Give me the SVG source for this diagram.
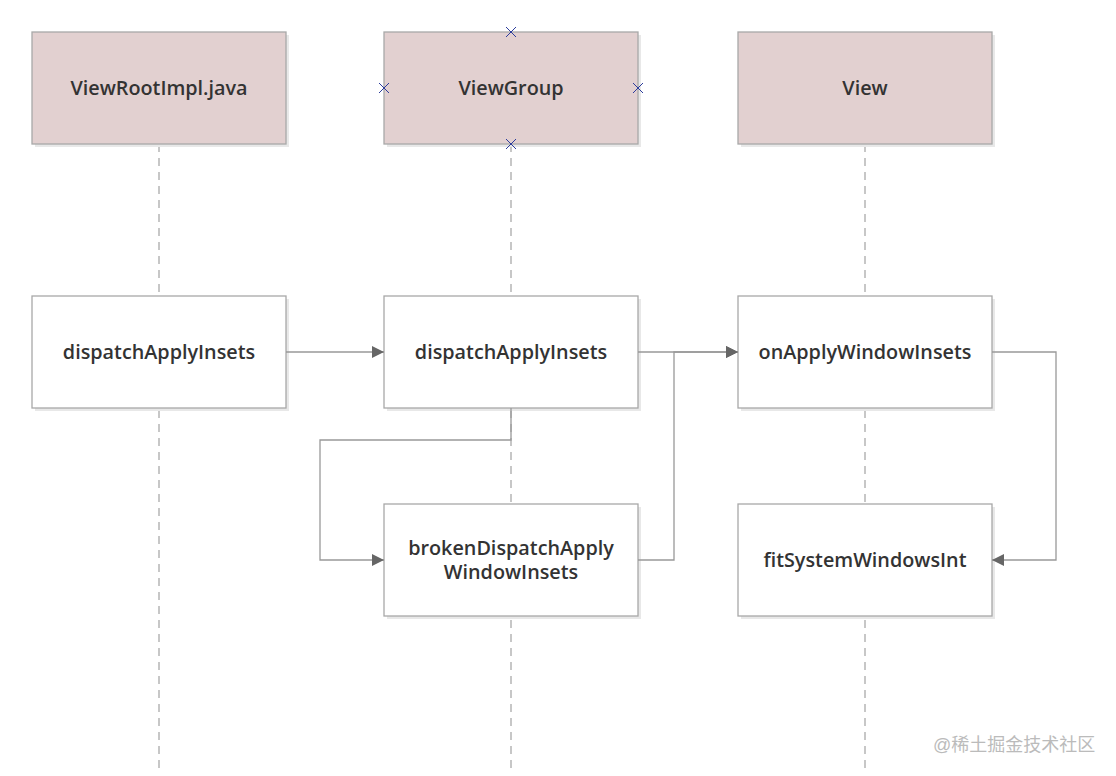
<svg xmlns="http://www.w3.org/2000/svg" width="1116" height="776" viewBox="0 0 1116 776">
<defs>
<style>
.life{stroke:#aaaaaa;stroke-width:1.3;stroke-dasharray:8,6;fill:none}
.hdr{fill:#e2d0d0;stroke:#a8a8a8;stroke-width:1.3}
.box{fill:#ffffff;stroke:#a8a8a8;stroke-width:1.3}
.sh{fill:#e8e8e8}
.t{font-family:"Open Sans","Liberation Sans",sans-serif;font-size:19.8px;font-weight:600;fill:#333333;text-anchor:middle}
.c{stroke:#999999;stroke-width:1.3;fill:none}
.x{stroke:#2c3c9c;stroke-width:1}
.wm{font-family:"Liberation Sans","Noto Sans CJK SC",sans-serif;font-size:18px;fill:#bbbbbb}
</style>
<marker id="ah" viewBox="0 0 12 12" refX="12" refY="6" markerWidth="12" markerHeight="12" markerUnits="userSpaceOnUse" orient="auto">
<path d="M0,0 L12,6 L0,12 Z" fill="#666666"/>
</marker>
</defs>
<rect width="1116" height="776" fill="#ffffff"/>
<g id="lifelines">
<line class="life" x1="159" y1="144" x2="159" y2="772"/>
<line class="life" x1="511" y1="144" x2="511" y2="772"/>
<line class="life" x1="865" y1="144" x2="865" y2="772"/>
</g>
<g id="n-viewrootimpl">
<rect class="sh" x="35" y="35" width="254" height="112"/>
<rect class="hdr" x="32" y="32" width="254" height="112"/>
<text class="t" x="159" y="95">ViewRootImpl.java</text>
</g>
<g id="n-viewgroup">
<rect class="sh" x="387" y="35" width="254" height="112"/>
<rect class="hdr" x="384" y="32" width="254" height="112"/>
<text class="t" x="511" y="95">ViewGroup</text>
<path class="x" d="M506,27 L516,37 M516,27 L506,37 M379,83 L389,93 M389,83 L379,93 M633,83 L643,93 M643,83 L633,93 M506,139 L516,149 M516,139 L506,149"/>
</g>
<g id="n-view">
<rect class="sh" x="741" y="35" width="254" height="112"/>
<rect class="hdr" x="738" y="32" width="254" height="112"/>
<text class="t" x="865" y="95">View</text>
</g>
<g id="n-vri-dispatch">
<rect class="sh" x="35" y="299" width="254" height="112"/>
<rect class="box" x="32" y="296" width="254" height="112"/>
<text class="t" x="159" y="359">dispatchApplyInsets</text>
</g>
<g id="n-vg-dispatch">
<rect class="sh" x="387" y="299" width="254" height="112"/>
<rect class="box" x="384" y="296" width="254" height="112"/>
<text class="t" x="511" y="359">dispatchApplyInsets</text>
</g>
<g id="n-view-onapply">
<rect class="sh" x="741" y="299" width="254" height="112"/>
<rect class="box" x="738" y="296" width="254" height="112"/>
<text class="t" x="865" y="359">onApplyWindowInsets</text>
</g>
<g id="n-vg-broken">
<rect class="sh" x="387" y="507" width="254" height="112"/>
<rect class="box" x="384" y="504" width="254" height="112"/>
<text class="t" x="511" y="555"><tspan x="511" y="555">brokenDispatchApply</tspan><tspan x="511" y="579">WindowInsets</tspan></text>
</g>
<g id="n-view-fit">
<rect class="sh" x="741" y="507" width="254" height="112"/>
<rect class="box" x="738" y="504" width="254" height="112"/>
<text class="t" x="865" y="567">fitSystemWindowsInt</text>
</g>
<g id="connectors">
<path class="c" d="M286,352 L384,352" marker-end="url(#ah)"/>
<path class="c" d="M638,352 L738,352" marker-end="url(#ah)"/>
<path class="c" d="M511,408 L511,440 L320,440 L320,560 L384,560" marker-end="url(#ah)"/>
<path class="c" d="M638,560 L674,560 L674,352 L738,352" marker-end="url(#ah)"/>
<path class="c" d="M992,352 L1056,352 L1056,560 L992,560" marker-end="url(#ah)"/>
</g>
<text class="wm" x="933" y="751">@稀土掘金技术社区</text>
</svg>
